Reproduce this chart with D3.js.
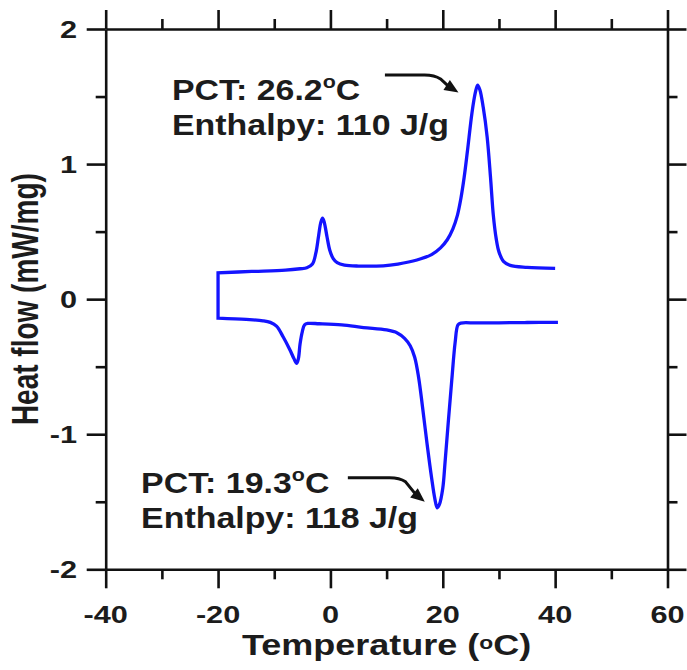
<!DOCTYPE html>
<html>
<head>
<meta charset="utf-8">
<script src="https://cdn.jsdelivr.net/npm/d3@7"></script>
<style>
  html, body { margin: 0; padding: 0; background: #ffffff; }
  svg { display: block; }
</style>
</head>
<body>
<svg id="chart" width="687" height="670"></svg>
<script>
// ---------------- DATA ----------------
// Cooling run (upper curve), temperature in °C, heat flow in mW/mg
const coolT = [-20, -14, -8, -5.4, -4.2, -3.2, -2.6, -2.1, -1.7, -1.4, -1.1, -0.6, -0.1, 0.5, 1.2, 2.5, 5, 9.4, 12, 15.4, 18, 19.6, 20.8, 21.8, 22.6, 23.2, 23.8, 24.4, 25.2, 25.8, 26.2, 26.6, 27.2, 27.9, 28.5, 29.0, 29.5, 30.0, 30.8, 32, 35, 40];
const coolHF = [0.195, 0.205, 0.215, 0.225, 0.232, 0.26, 0.34, 0.47, 0.57, 0.60, 0.57, 0.46, 0.36, 0.30, 0.27, 0.252, 0.245, 0.247, 0.26, 0.29, 0.33, 0.38, 0.44, 0.52, 0.62, 0.74, 0.90, 1.10, 1.38, 1.53, 1.585, 1.55, 1.42, 1.20, 0.90, 0.62, 0.45, 0.35, 0.28, 0.25, 0.235, 0.228];
// Heating run (lower curve)
const heatT = [-20, -15, -12, -10.7, -9.6, -8.4, -7.2, -6.5, -6.0, -5.7, -5.4, -5.0, -4.6, -4.0, -2, 2, 5.9, 10, 11.9, 13.2, 14.2, 15.0, 15.7, 16.4, 17.2, 18.0, 18.6, 19.0, 19.4, 20.0, 20.4, 21.0, 21.6, 22.2, 22.7, 23.2, 26, 30, 35, 40.5];
const heatHF = [-0.14, -0.15, -0.16, -0.172, -0.20, -0.28, -0.376, -0.44, -0.475, -0.44, -0.33, -0.24, -0.19, -0.18, -0.182, -0.19, -0.21, -0.228, -0.25, -0.29, -0.345, -0.43, -0.58, -0.80, -1.07, -1.32, -1.48, -1.545, -1.52, -1.40, -1.21, -0.90, -0.60, -0.32, -0.19, -0.177, -0.176, -0.175, -0.173, -0.172];

// Axis ticks
const xMajor = [-40, -20, 0, 20, 40, 60];
const xMinor = [-30, -10, 10, 30, 50];
const yMajor = [-2, -1, 0, 1, 2];
const yMinor = [-1.5, -0.5, 0.5, 1.5];
const xTickLabels = ["-40", "-20", "0", "20", "40", "60"];
const yTickLabels = ["-2", "-1", "0", "1", "2"];

// Annotations (anchors in data units)
const annoPCT = ["26.2", "19.3"];
const annoEnthalpy = ["Enthalpy: 110 J/g", "Enthalpy: 118 J/g"];
const annoTextT = [-28.2, -33.7];
const annoTextHF = [1.474, -1.434];
const arrowStartT = [9.7, 3.1];
const arrowStartHF = [1.66, -1.323];
const arrowTipT = [22.8, 16.8];
const arrowTipHF = [1.53, -1.50];

// ---------------- LAYOUT ----------------
const svg = d3.select("#chart");
const L = 105.7, R = 667.5, T = 29, B = 569.3;
const x = d3.scaleLinear().domain([-40, 60]).range([L, R]);
const y = d3.scaleLinear().domain([-2, 2]).range([B, T]);

const FONT = "'Liberation Sans', Arial, Helvetica, sans-serif";
const INK = "#1c1c1c";
const AXW = 2.6;
const MAJ = 19, MIN = 10;

// ---------------- CURVE ----------------
const coolPts = coolT.map((t, i) => [t, coolHF[i]]).reverse(); // 40 -> -20
const heatPts = heatT.map((t, i) => [t, heatHF[i]]);           // -20 -> 40

const line = d3.line()
  .x(d => x(d[0]))
  .y(d => y(d[1]))
  .curve(d3.curveCatmullRom.alpha(0.5));

// one continuous trace: cooling then heating, joined by a straight segment
const dPath = line(coolPts) + line(heatPts).replace(/^M/, "L");
svg.append("path")
  .attr("fill", "none")
  .attr("stroke", "#1414ff")
  .attr("stroke-width", 3.3)
  .attr("stroke-linejoin", "miter")
  .attr("d", dPath);

// ---------------- AXES ----------------
function styleAxis(g) {
  g.selectAll("path.domain").attr("stroke", "#111").attr("stroke-width", AXW);
  g.selectAll(".tick line").attr("stroke", "#111").attr("stroke-width", AXW);
  g.selectAll(".tick text").remove();
}
function addAxis(gen, tx, ty, values, size) {
  const g = svg.append("g").attr("transform", `translate(${tx},${ty})`)
    .call(gen.tickValues(values).tickSize(size).tickSizeOuter(0).tickFormat(""));
  styleAxis(g);
  if (size === MIN) g.select("path.domain").remove();
  return g;
}
addAxis(d3.axisBottom(x), 0, B, xMajor, MAJ);
addAxis(d3.axisBottom(x), 0, B, xMinor, MIN);
addAxis(d3.axisTop(x), 0, T, xMajor, MAJ);
addAxis(d3.axisTop(x), 0, T, xMinor, MIN);
addAxis(d3.axisLeft(y), L, 0, yMajor, MAJ);
addAxis(d3.axisLeft(y), L, 0, yMinor, MIN);
addAxis(d3.axisRight(y), R, 0, yMajor, MAJ);
addAxis(d3.axisRight(y), R, 0, yMinor, MIN);

// ---------------- TICK LABELS ----------------
const TS = 24, TSX = 1.28;
xMajor.forEach((v, i) => {
  svg.append("text")
    .attr("transform", `translate(${x(v)},${623}) scale(${TSX},1)`)
    .attr("text-anchor", "middle")
    .attr("font-family", FONT).attr("font-weight", "bold")
    .attr("font-size", TS).attr("fill", INK)
    .text(xTickLabels[i]);
});
yMajor.forEach((v, i) => {
  svg.append("text")
    .attr("transform", `translate(${77},${y(v) + 8.6}) scale(${TSX},1)`)
    .attr("text-anchor", "end")
    .attr("font-family", FONT).attr("font-weight", "bold")
    .attr("font-size", TS).attr("fill", INK)
    .text(yTickLabels[i]);
});

// ---------------- AXIS TITLES ----------------
const xt = svg.append("text")
  .attr("transform", `translate(${(L + R) / 2},${655}) scale(1.2,1)`)
  .attr("text-anchor", "middle")
  .attr("font-family", FONT).attr("font-weight", "bold")
  .attr("font-size", 30).attr("fill", INK);
xt.append("tspan").text("Temperature (");
xt.append("tspan").attr("font-size", 19).attr("dy", -6).text("o");
xt.append("tspan").attr("dy", 6).text("C)");

svg.append("text")
  .attr("transform", `translate(${38},${y(0)}) scale(1.3,1) rotate(-90)`)
  .attr("text-anchor", "middle")
  .attr("font-family", FONT).attr("font-weight", "bold")
  .attr("font-size", 28).attr("fill", INK)
  .text("Heat flow (mW/mg)");

// ---------------- ANNOTATIONS ----------------
const AS = 30, ASX = 1.13;
annoPCT.forEach((p, i) => {
  const tx = x(annoTextT[i]), ty = y(annoTextHF[i]);
  const t1 = svg.append("text")
    .attr("transform", `translate(${tx},${ty}) scale(${ASX},1)`)
    .attr("font-family", FONT).attr("font-weight", "bold")
    .attr("font-size", AS).attr("fill", INK);
  t1.append("tspan").text("PCT: " + p);
  t1.append("tspan").attr("font-size", 19).attr("dy", -12).text("o");
  t1.append("tspan").attr("dy", 12).text("C");
  svg.append("text")
    .attr("transform", `translate(${tx},${ty + 35}) scale(${ASX},1)`)
    .attr("font-family", FONT).attr("font-weight", "bold")
    .attr("font-size", AS).attr("fill", INK)
    .text(annoEnthalpy[i]);

  // arrow
  const sx = x(arrowStartT[i]), sy = y(arrowStartHF[i]);
  const ex = x(arrowTipT[i]), ey = y(arrowTipHF[i]);
  const kx = sx + (ex - sx) * 0.62, ky = sy;
  const ang = Math.atan2(ey - (ky + (ey - ky) * 0.2), ex - (kx + (ex - kx) * 0.2));
  const HL = 14, HW = 6;
  const bx = ex - HL * Math.cos(ang), by = ey - HL * Math.sin(ang);
  svg.append("path")
    .attr("fill", "none").attr("stroke", "#111").attr("stroke-width", 3)
    .attr("d", `M${sx},${sy} L${kx - 6},${ky} Q${kx + 4},${ky} ${kx + 10},${ky + 4} L${bx + 2 * Math.cos(ang)},${by + 2 * Math.sin(ang)}`);
  svg.append("path")
    .attr("fill", "#111")
    .attr("d", `M${ex},${ey} L${bx - HW * Math.sin(ang)},${by + HW * Math.cos(ang)} L${bx + HW * Math.sin(ang)},${by - HW * Math.cos(ang)} Z`);
});
</script>
</body>
</html>
